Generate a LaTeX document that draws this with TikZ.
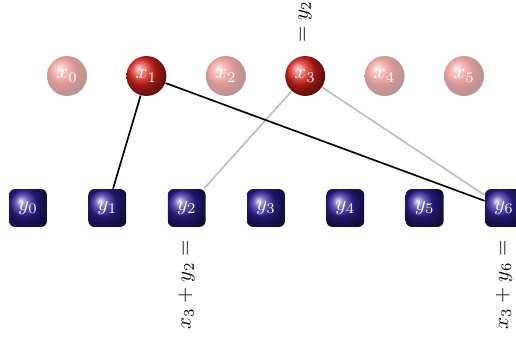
\documentclass[tikz,border=0pt]{standalone}
\begin{document}
\begin{tikzpicture}[x=0.476pt,y=-0.476pt,
  xnode/.style={circle,ball color=xred,minimum size=19pt,inner sep=0pt,text=white,font=\normalsize},
  xfaded/.style={xnode,fill opacity=0.45,text opacity=1},
  ynode/.style={rectangle,rounded corners=2.8pt,ball color=ynavy,minimum size=18pt,inner sep=0pt,text=white},
  blk/.style={black,line width=0.8pt},
  gry/.style={gray!50,line width=0.8pt},
  lbl/.style={rotate=90,inner sep=2pt}]
\definecolor{xred}{RGB}{230,35,28}
\definecolor{ynavy}{RGB}{50,35,160}
\useasboundingbox (0,0) rectangle (516,342);
\foreach \i in {0,...,5}{
  \pgfmathsetmacro\xx{67+79.4*\i}
  \ifnum\i=1
    \node[xnode] (x\i) at (\xx,76) {$x_{\i}$};
  \else\ifnum\i=3
    \node[xnode] (x\i) at (\xx,76) {$x_{\i}$};
  \else
    \node[xfaded] (x\i) at (\xx,76) {$x_{\i}$};
  \fi\fi
}
\foreach \i in {0,...,6}{
  \pgfmathsetmacro\xx{28+79.33*\i}
  \node[ynode] (y\i) at (\xx,208) {$y_{\i}$};
}
\draw[gry] (x3) -- (y2);
\draw[gry] (x3) -- (y6);
\draw[blk] (x1) -- (y1);
\draw[blk] (x1) -- (y6);
\node[lbl,anchor=west] (l1) at ([yshift=4pt]x3.north) {$=y_2$};
\node[lbl,anchor=east] (l2) at ([yshift=-4pt]y2.south) {$x_3+y_2=$};
\node[lbl,anchor=east] (l3) at ([yshift=-4pt]y6.south) {$x_3+y_6=$};
\end{tikzpicture}
\end{document}
